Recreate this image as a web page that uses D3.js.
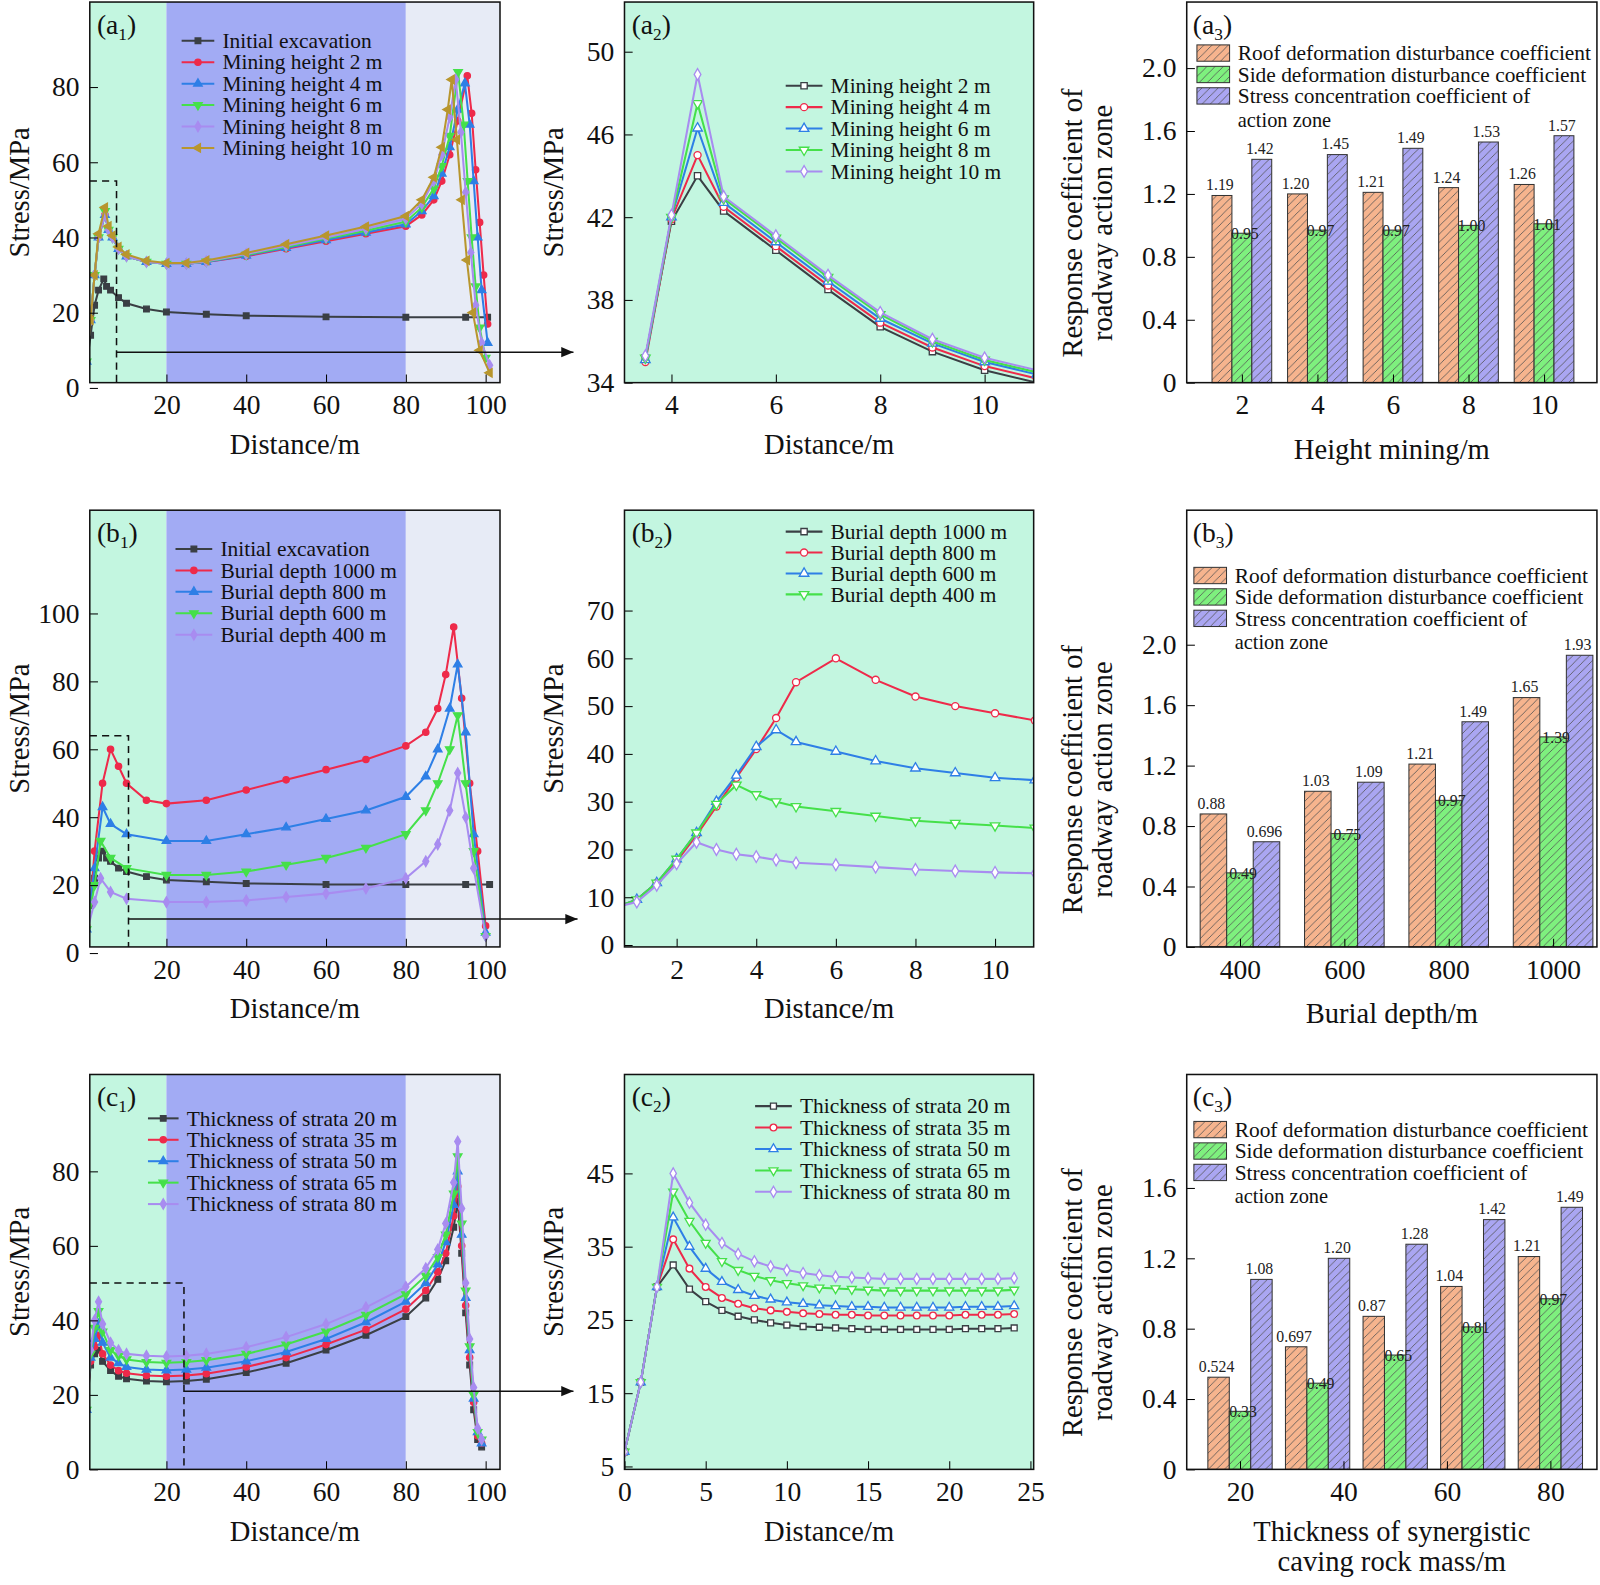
<!DOCTYPE html>
<html><head><meta charset="utf-8">
<script src="https://cdn.jsdelivr.net/npm/d3@7/dist/d3.min.js"></script>
<style>body{margin:0;background:#fff}text{font-family:"Liberation Serif","Times New Roman",serif}</style>
</head><body><svg id="c" width="1600" height="1585"></svg>
<script>
// ---------- DATA ----------
const a1Names=["Initial excavation","Mining height 2 m","Mining height 4 m","Mining height 6 m","Mining height 8 m","Mining height 10 m"];
const a1Init=[[0,6],[1,14],[2,22],[3,26],[4.3,29],[5,27],[6,26],[8,24],[10,22.5],[15,21],[20,20.2],[30,19.6],[40,19.2],[60,18.9],[80,18.8],[95,18.8],[100.5,18.8]];
const a1H2=[[0,7],[1,18],[2,30],[3,40],[4.6,46],[5.5,42],[6.5,40],[8,37],[10,35],[15,33.5],[20,33],[25,33],[30,33.5],[40,35],[50,37],[60,39],[70,41],[80,43],[84,46],[87,50],[89,55],[91,62],[93,71],[95.4,83],[96.5,73],[97.5,58],[98.5,44],[99.5,30],[100.5,17]];
const a1H4=[[0,7],[1,18],[2,30],[3,40],[4.6,46],[5.5,42],[6.5,40],[8,37],[10,35],[15,33.5],[20,33],[25,33],[30,33.5],[40,35.2],[50,37.2],[60,39.3],[70,41.3],[80,43.5],[84,47],[87,51],[89,57],[91,64],[93,74],[94.8,81],[96,70],[97,55],[98,40],[99,26],[100.5,12]];
const a1H6=[[0,7],[1,18],[2,30],[3,40],[4.6,47],[5.5,42],[6.5,40],[8,37],[10,35],[15,33.5],[20,33],[25,33],[30,33.6],[40,35.4],[50,37.5],[60,39.7],[70,41.8],[80,44.2],[84,48],[87,53],[89,59],[91,67],[93.1,84],[94.5,70],[95.5,55],[96.5,40],[97.5,27],[98.5,16],[100,8]];
const a1H8=[[0,7],[1,18],[2,30],[3,40],[4.6,46],[5.5,42],[6.5,40],[8,37],[10,35],[15,33.5],[20,33],[25,33],[30,33.7],[40,35.6],[50,37.8],[60,40],[70,42.3],[80,45],[84,49],[87,55],[89,62],[91,72],[92.5,82],[93.8,68],[95,52],[96.3,36],[97.5,22],[99,12],[101,6]];
const a1H10=[[0,7],[1,18],[2,30],[3,41],[4.6,48],[5.5,43],[6.5,40.5],[8,37.5],[10,35.5],[15,33.8],[20,33.2],[25,33.2],[30,33.9],[40,35.9],[50,38.2],[60,40.5],[70,42.9],[80,45.7],[84,50],[87,56],[89,64],[90.5,74],[91.5,82],[92.8,66],[94,50],[95.3,34],[96.8,20],[98.5,10],[101,4]];

const a2Names=["Mining height 2 m","Mining height 4 m","Mining height 6 m","Mining height 8 m","Mining height 10 m"];
const a2X=[3.5,4,4.5,5,6,7,8,9,10,11];
const a2H2=[35.2,41.8,44.0,42.3,40.4,38.5,36.7,35.5,34.6,34.0];
const a2H4=[35.0,41.9,45.0,42.5,40.6,38.7,36.9,35.7,34.8,34.2];
const a2H6=[35.1,42.0,46.3,42.7,40.8,38.9,37.1,35.9,35.0,34.4];
const a2H8=[35.2,42.0,47.5,42.9,41.0,39.1,37.3,36.0,35.1,34.5];
const a2H10=[35.3,42.1,48.9,43.0,41.1,39.2,37.4,36.1,35.2,34.6];

const barNames=["Roof deformation disturbance coefficient","Side deformation disturbance coefficient","Stress concentration coefficient of","action zone"];
const a3Cats=[2,4,6,8,10];
const a3Roof=[1.19,1.20,1.21,1.24,1.26];
const a3Side=[0.95,0.97,0.97,1.00,1.01];
const a3Stress=[1.42,1.45,1.49,1.53,1.57];
const a3Labels=[["1.19","1.20","1.21","1.24","1.26"],["0.95","0.97","0.97","1.00","1.01"],["1.42","1.45","1.49","1.53","1.57"]];

const b1Names=["Initial excavation","Burial depth 1000 m","Burial depth 800 m","Burial depth 600 m","Burial depth 400 m"];
const b1Init=[[0,7],[1,14],[2,22],[3,28],[4,30],[5,28],[6,27],[8,25],[10,24],[15,22.5],[20,21.5],[30,21],[40,20.5],[60,20.2],[80,20.2],[95,20.2],[101,20.2]];
const b1D1000=[[0,8],[1,15],[2,30],[4,50],[6,60],[8,55],[10,50],[15,45],[20,44],[30,45],[40,48],[50,51],[60,54],[70,57],[80,61],[85,65],[88,72],[90,82],[92,96],[94,75],[96,50],[98,30],[100,8]];
const b1D800=[[0,7],[2,25],[4,43],[6,38],[10,35],[20,33],[30,33],[40,35],[50,37],[60,39.5],[70,42],[80,46],[85,52],[88,60],[91,72],[93,85],[95,65],[97,35],[100,6]];
const b1D600=[[0,7],[2,20],[3.5,33],[6,28],[10,25],[20,23],[30,23],[40,24],[50,26],[60,28],[70,31],[80,35],[85,42],[88,50],[91,60],[93,70],[95,50],[97,30],[100,5]];
const b1D400=[[0,6],[2,15],[3.5,22],[6,18],[10,16],[20,15],[30,15],[40,15.5],[50,16.5],[60,17.5],[70,19],[80,22],[85,27],[88,32],[91,42],[93,53],[95,40],[97,25],[100,5]];

const b2Names=["Burial depth 1000 m","Burial depth 800 m","Burial depth 600 m","Burial depth 400 m"];
const b2X=[0.5,1,1.5,2,2.5,3,3.5,4,4.5,5,6,7,8,9,10,11];
const b2D1000=[8,9.5,13,17.5,23,29,35,41,47.5,55,60,55.5,52,50,48.5,47];
const b2D800=[8,9.5,13,18,23.5,30,35.5,41.5,45,42.5,40.5,38.5,37,36,35,34.5];
const b2D600=[8,9.5,13,18,23.5,29.5,33.5,31.5,30,29,28,27,26,25.5,25,24.5];
const b2D400=[8,9,12.5,17,21.5,20,19,18.5,17.8,17.2,16.8,16.3,15.8,15.5,15.2,15];

const b3Cats=[400,600,800,1000];
const b3Roof=[0.88,1.03,1.21,1.65];
const b3Side=[0.49,0.75,0.97,1.39];
const b3Stress=[0.696,1.09,1.49,1.93];
const b3Labels=[["0.88","1.03","1.21","1.65"],["0.49","0.75","0.97","1.39"],["0.696","1.09","1.49","1.93"]];

const cNames=["Thickness of strata 20 m","Thickness of strata 35 m","Thickness of strata 50 m","Thickness of strata 65 m","Thickness of strata 80 m"];
const c1X=[0,1,2,3,4,6,8,10,15,20,25,30,40,50,60,70,80,85,88,90,92,93,94,95,96,97,98,99];
const c1T20=[16,28,31,32,29,26.5,25,24.3,23.7,23.5,23.7,24.2,26,28.5,32,36,41,46,51,56,65,72,58,42,28,16,8,6];
const c1T35=[16,29,33,36,31,28,26.5,25.8,25.2,25,25.2,25.7,27.5,30,33.5,37.5,43,48,53,58,68,76,60,44,30,18,9,7];
const c1T50=[16,30,35,39,34,30,28.5,27.5,26.8,26.6,26.8,27.3,29,31.5,35,39.5,45,50,55,61,71,80,63,46,32,19,10,7];
const c1T65=[16,31,38,42.5,37,32,30.5,29.5,28.8,28.6,28.8,29.3,31,33.5,37,41.5,47,52,57,63,74,84,66,48,33,20,10,8];
const c1T80=[16,32,40,45,39,34,32,31,30.5,30.3,30.5,31,32.8,35.5,39,43.5,49,54,59,66,77,88,70,50,35,22,11,8];

const c2X=[0,1,2,3,4,5,6,7,8,9,10,11,12,13,14,15,16,17,18,19,20,21,22,23,24];
const c2T20=[7,16.5,29.5,32.5,29.2,27.5,26.3,25.5,25,24.6,24.3,24.1,24,23.9,23.8,23.7,23.7,23.7,23.7,23.7,23.7,23.8,23.8,23.8,23.9];
const c2T35=[7,16.5,29.5,36,32,29.5,28,27.2,26.6,26.3,26.1,25.9,25.8,25.7,25.7,25.6,25.6,25.6,25.6,25.6,25.6,25.7,25.7,25.7,25.8];
const c2T50=[7,16.5,29.5,39,35,32,30.2,29.1,28.3,27.8,27.4,27.2,27,26.9,26.8,26.8,26.7,26.7,26.7,26.7,26.7,26.8,26.8,26.8,26.9];
const c2T65=[7,16.5,29.5,42.5,38.5,35.5,33,31.8,31,30.4,30,29.7,29.4,29.3,29.2,29.1,29,29,29,29,29,29,29,29,29.1];
const c2T80=[7,16.5,29.5,45,41,38,35.5,34,33,32.3,31.8,31.4,31.1,30.9,30.8,30.7,30.6,30.6,30.6,30.6,30.6,30.6,30.6,30.6,30.7];

const c3Cats=[20,35,50,65,80];
const c3Roof=[0.524,0.697,0.87,1.04,1.21];
const c3Side=[0.33,0.49,0.65,0.81,0.97];
const c3Stress=[1.08,1.20,1.28,1.42,1.49];
const c3Labels=[["0.524","0.697","0.87","1.04","1.21"],["0.33","0.49","0.65","0.81","0.97"],["1.08","1.20","1.28","1.42","1.49"]];

// ---------- STYLE ----------
const K="#3a3f44",R="#ee2a4a",B="#2e7fe6",G="#45e04a",P="#a88cf0",O="#b8962e";
const BG_G="#c3f6e0",BG_B="#a2abf4",BG_L="#e7ebf6";
const svg=d3.select("#c");
const root=svg.append("g").attr("transform","scale(1.0204)");
const defs=svg.append("defs");
[["hR","#f6b48e"],["hG","#7ef07e"],["hP","#aaa6f2"]].forEach(([id,c])=>{
  const p=defs.append("pattern").attr("id",id).attr("patternUnits","userSpaceOnUse").attr("width",8).attr("height",8);
  p.append("rect").attr("width",8).attr("height",8).attr("fill",c);
  p.append("path").attr("d","M-2,10 L10,-2 M-2,2 L2,-2 M6,10 L10,6").attr("stroke","#555").attr("stroke-width",0.8);
});
const symT=[d3.symbolSquare,d3.symbolCircle,d3.symbolTriangle,d3.symbolTriangle,d3.symbolDiamond,d3.symbolTriangle];
const symRot=[0,0,0,180,0,-90];

function axes(g,x,y,P,xt,yt,yfmt){
  g.append("g").attr("transform",`translate(0,${P.y1})`).call(d3.axisBottom(x).tickValues(xt).tickSize(-8).tickPadding(12).tickFormat(d3.format("d")))
   .call(s=>{s.select(".domain").remove();s.selectAll("text").attr("font-size",27).attr("fill","#111");});
  g.append("g").attr("transform",`translate(${P.x0},0)`).call(d3.axisLeft(y).tickValues(yt).tickSize(-8).tickPadding(10).tickFormat(yfmt||d3.format("d")))
   .call(s=>{s.select(".domain").remove();s.selectAll("text").attr("font-size",27).attr("fill","#111");});
  g.append("rect").attr("x",P.x0).attr("y",P.y0).attr("width",P.x1-P.x0).attr("height",P.y1-P.y0).attr("fill","none").attr("stroke","#111").attr("stroke-width",1.5);
}
function label(g,x,y,l,sub){
  const t=g.append("text").attr("x",x).attr("y",y).attr("font-size",27).attr("fill","#111");
  t.append("tspan").text("("+l);t.append("tspan").attr("font-size",17).attr("dy",6).text(sub);t.append("tspan").attr("dy",-6).text(")");
}
function titles(g,P,xt,yt,xlines,ylines){
  (ylines||[yt]).forEach((t,i,a)=>g.append("text").attr("transform",`translate(${P.tx+i*30},${(P.y0+P.y1)/2+(P.tyOff||0)}) rotate(-90)`).attr("text-anchor","middle").attr("font-size",28).attr("fill","#111").text(t));
  (xlines||[xt]).forEach((t,i)=>g.append("text").attr("x",(P.x0+P.x1)/2+(P.txOff||0)).attr("y",P.y1+70+i*30+(P.tyX||0)).attr("text-anchor","middle").attr("font-size",28).attr("fill","#111").text(t));
}
function linePanel(P){
  const g=root.append("g");
  const x=d3.scaleLinear().domain(P.xd).range([P.x0,P.x1]);
  const y=d3.scaleLinear().domain(P.yd).range([P.y1,P.y0]);
  const cp=defs.append("clipPath").attr("id","cp"+P.id);cp.append("rect").attr("x",P.x0).attr("y",P.y0).attr("width",P.x1-P.x0).attr("height",P.y1-P.y0);
  if(P.zones){
    g.append("rect").attr("x",P.x0).attr("y",P.y0).attr("width",x(20)-P.x0).attr("height",P.y1-P.y0).attr("fill",BG_G);
    g.append("rect").attr("x",x(20)).attr("y",P.y0).attr("width",x(80)-x(20)).attr("height",P.y1-P.y0).attr("fill",BG_B);
    g.append("rect").attr("x",x(80)).attr("y",P.y0).attr("width",P.x1-x(80)).attr("height",P.y1-P.y0).attr("fill",BG_L);
  } else g.append("rect").attr("x",P.x0).attr("y",P.y0).attr("width",P.x1-P.x0).attr("height",P.y1-P.y0).attr("fill",BG_G);
  const lg=g.append("g").attr("clip-path",`url(#cp${P.id})`);
  const line=d3.line().x(d=>x(d[0])).y(d=>y(d[1]));
  P.series.forEach(s=>{
    lg.append("path").attr("d",line(s.pts)).attr("fill","none").attr("stroke",s.c).attr("stroke-width",2);
    s.pts.forEach(d=>lg.append("path").attr("d",d3.symbol(symT[s.m],P.ms)()).attr("transform",`translate(${x(d[0])},${y(d[1])}) rotate(${symRot[s.m]})`)
      .attr("fill",P.open?"#fff":s.c).attr("stroke",s.c).attr("stroke-width",1.3));
  });
  if(P.box){
    g.append("path").attr("d",`M${P.x0},${y(P.box[1])}H${x(P.box[0])}V${P.y1}`).attr("fill","none").attr("stroke","#111").attr("stroke-dasharray","7,5").attr("stroke-width",1.5);
    g.append("line").attr("x1",x(P.box[0])).attr("x2",P.arrowTo).attr("y1",y(P.box[2])).attr("y2",y(P.box[2])).attr("stroke","#111").attr("stroke-width",1.5);
    const ay=y(P.box[2]);
    root.append("path").attr("d",`M${P.arrowTo},${ay}l-12,-5v10z`).attr("fill","#111");
  }
  P.series.forEach((s,i)=>{
    const ly=P.lg[1]+i*P.lg[3];
    const lc=s.lc||s.c, lm=(s.lm!==undefined)?s.lm:s.m;
    g.append("line").attr("x1",P.lg[0]).attr("x2",P.lg[0]+P.lg[2]).attr("y1",ly).attr("y2",ly).attr("stroke",lc).attr("stroke-width",2);
    g.append("path").attr("d",d3.symbol(symT[lm],P.ms)()).attr("transform",`translate(${P.lg[0]+P.lg[2]/2},${ly}) rotate(${symRot[lm]})`).attr("fill",P.open?"#fff":lc).attr("stroke",lc).attr("stroke-width",1.3);
    g.append("text").attr("x",P.lg[0]+P.lg[2]+8).attr("y",ly+7).attr("font-size",21).attr("fill","#111").text(s.n);
  });
  axes(g,x,y,P,P.xt,P.yt);
  label(g,P.x0+7,P.y0+31,P.lab[0],P.lab[1]);
  titles(g,P,"Distance/m","Stress/MPa");
  return g;
}
function barPanel(P){
  const g=root.append("g");
  const x=d3.scaleLinear().domain(P.xd).range([P.x0,P.x1]);
  const y=d3.scaleLinear().domain(P.yd).range([P.y1,P.y0]);
  const fills=["url(#hR)","url(#hG)","url(#hP)"];
  P.vals.forEach((arr,k)=>arr.forEach((v,i)=>{
    const cx=x(P.cats[i])+(k-1)*P.bw;
    g.append("rect").attr("x",cx-P.bw/2).attr("y",y(v)).attr("width",P.bw).attr("height",P.y1-y(v)).attr("fill",fills[k]).attr("stroke","#333").attr("stroke-width",1);
  }));
  P.vals.forEach((arr,k)=>arr.forEach((v,i)=>{
    const cx=x(P.cats[i])+(k-1)*P.bw;
    g.append("text").attr("x",cx+(k==1?3:-2)).attr("y",y(v)-(k==1?-6:5)).attr("text-anchor","middle").attr("font-size",15.5).attr("fill","#222").text(P.labels[k][i]);
  }));
  for(let i=0;i<3;i++){
    const ly=P.lg[1]+i*21;
    g.append("rect").attr("x",P.lg[0]).attr("y",ly-8).attr("width",32).attr("height",16).attr("fill",fills[i]).attr("stroke","#333");
    g.append("text").attr("x",P.lg[0]+40).attr("y",ly+7).attr("font-size",21).attr("fill","#111").text(barNames[i]);
  }
  g.append("text").attr("x",P.lg[0]+40).attr("y",P.lg[1]+3*21+9).attr("font-size",20).attr("fill","#111").text(barNames[3]);
  axes(g,x,y,P,P.xt,P.yt,d=>d===0?"0":d3.format(".1f")(d));
  label(g,P.x0+6,P.y0+31,P.lab[0],P.lab[1]);
  titles(g,P,null,null,P.xtitle,["Response coefficient of","roadway action zone"]);
}

linePanel({id:"a1",x0:88,x1:490,y0:2,y1:375,xd:[0.8,103.6],yd:[1.4,102.6],zones:true,ms:30,tx:28,
  xt:[20,40,60,80,100],yt:[0,20,40,60,80],lab:["a","1"],lg:[178,40,32,21],box:[7.5,55,9.5],arrowTo:562,
  series:[{n:a1Names[0],pts:a1Init,c:K,m:0},{n:a1Names[1],pts:a1H2,c:R,m:1},{n:a1Names[2],pts:a1H4,c:B,m:2},{n:a1Names[3],pts:a1H6,c:G,m:3},{n:a1Names[4],pts:a1H8,c:P,m:4},{n:a1Names[5],pts:a1H10,c:O,m:5}]});
linePanel({id:"a2",x0:612,x1:1013,y0:2,y1:375,xd:[3.1,10.94],yd:[34,52.4],ms:38,open:true,tx:552,
  xt:[4,6,8,10],yt:[34,38,42,46,50],lab:["a","2"],lg:[770,84,36,21],
  series:[a2H2,a2H4,a2H6,a2H8,a2H10].map((v,i)=>({n:a2Names[i],pts:v.map((d,j)=>[a2X[j],d]),c:[K,R,B,G,P][i],m:[0,1,2,3,4][i]}))});
barPanel({x0:1163,x1:1565,y0:2,y1:375,xd:[0.54,11.4],yd:[0,2.42],bw:19.5,cats:a3Cats,vals:[a3Roof,a3Side,a3Stress],labels:a3Labels,
  xt:a3Cats,yt:[0,0.4,0.8,1.2,1.6,2.0],lab:["a","3"],lg:[1173,52],tx:1060,tyOff:30,xtitle:["Height mining/m"],tyX:5});

linePanel({id:"b1",x0:88,x1:490,y0:500,y1:928,xd:[0.8,103.6],yd:[1.8,130.4],zones:true,ms:30,tx:28,
  xt:[20,40,60,80,100],yt:[0,20,40,60,80,100],lab:["b","1"],lg:[172,538,36,21],box:[10.5,64,10],arrowTo:566,
  series:[{n:b1Names[0],pts:b1Init,c:K,m:0},{n:b1Names[1],pts:b1D1000,c:R,m:1},{n:b1Names[2],pts:b1D800,c:B,m:2},{n:b1Names[3],pts:b1D600,c:G,m:3},{n:b1Names[4],pts:b1D400,c:P,m:4}]});
linePanel({id:"b2",x0:612,x1:1013,y0:500,y1:928,xd:[0.69,10.97],yd:[-0.4,91],ms:38,open:true,tx:552,
  xt:[2,4,6,8,10],yt:[0,10,20,30,40,50,60,70],lab:["b","2"],lg:[770,521,36,20.5],
  series:[b2D1000,b2D800,b2D600,b2D400].map((v,i)=>({n:b2Names[i],pts:v.map((d,j)=>[b2X[j],d]),c:[R,B,G,P][i],m:[1,2,3,4][i],lc:[K,R,B,G][i],lm:[0,1,2,3][i]}))});
barPanel({x0:1163,x1:1565,y0:500,y1:928,xd:[298,1084],yd:[0,2.89],bw:26,cats:b3Cats,vals:[b3Roof,b3Side,b3Stress],labels:b3Labels,
  xt:b3Cats,yt:[0,0.4,0.8,1.2,1.6,2.0],lab:["b","3"],lg:[1170,564],tx:1060,tyOff:50,xtitle:["Burial depth/m"],tyX:5});

linePanel({id:"c1",x0:88,x1:490,y0:1053,y1:1440,xd:[0.8,103.6],yd:[0,106],zones:true,ms:30,tx:28,
  xt:[20,40,60,80,100],yt:[0,20,40,60,80],lab:["c","1"],lg:[145,1096,30,21],box:[24.4,50,21],arrowTo:562,
  series:[c1T20,c1T35,c1T50,c1T65,c1T80].map((v,i)=>({n:cNames[i],pts:v.map((d,j)=>[c1X[j],d]),c:[K,R,B,G,P][i],m:[0,1,2,3,4][i]}))});
linePanel({id:"c2",x0:612,x1:1013,y0:1053,y1:1440,xd:[0,25.2],yd:[4.6,58.5],ms:34,open:true,tx:552,
  xt:[0,5,10,15,20,25],yt:[5,15,25,35,45],lab:["c","2"],lg:[740,1084,36,21],
  series:[c2T20,c2T35,c2T50,c2T65,c2T80].map((v,i)=>({n:cNames[i],pts:v.map((d,j)=>[c2X[j],d]),c:[K,R,B,G,P][i],m:[0,1,2,3,4][i]}))});
barPanel({x0:1163,x1:1565,y0:1053,y1:1440,xd:[9.7,89],yd:[0,2.245],bw:21,cats:c3Cats,vals:[c3Roof,c3Side,c3Stress],labels:c3Labels,
  xt:[20,40,60,80],yt:[0,0.4,0.8,1.2,1.6],lab:["c","3"],lg:[1170,1107],tx:1060,tyOff:30,xtitle:["Thickness of synergistic","caving rock mass/m"],tyX:0});
</script></body></html>
